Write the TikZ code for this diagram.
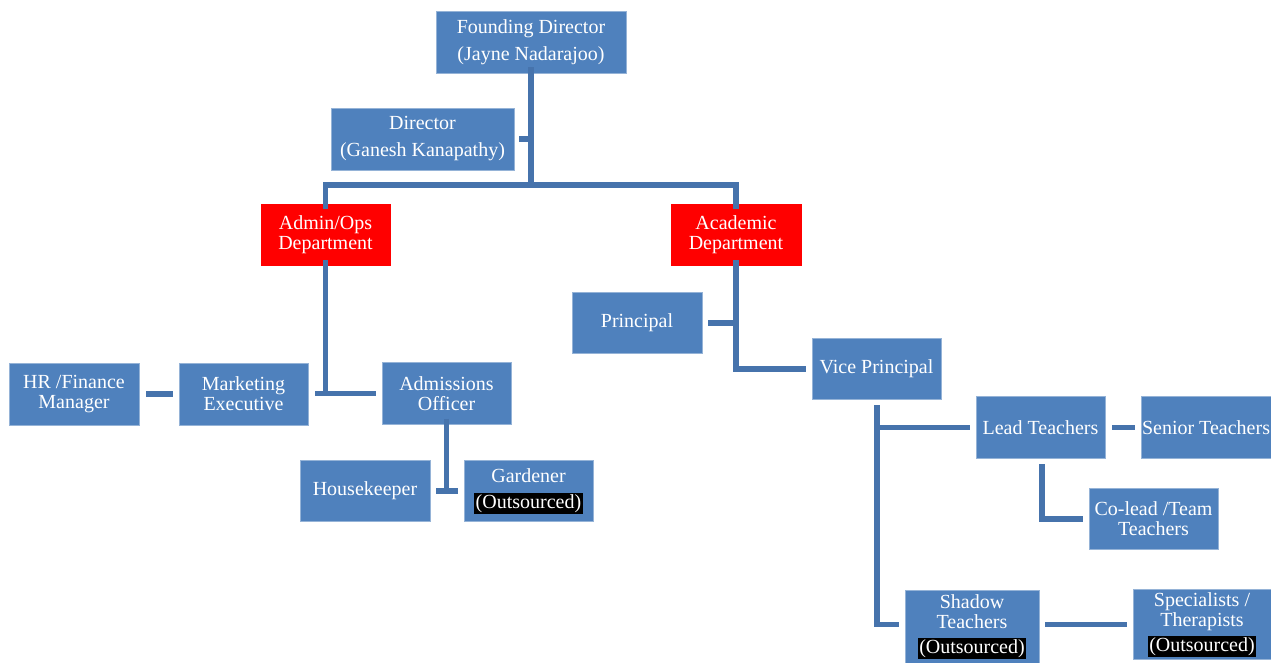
\documentclass[tikz,border=0pt]{standalone}
\usepackage{fontspec}
\setmainfont{Liberation Serif}
\definecolor{boxblue}{HTML}{4F81BD}
\definecolor{boxred}{HTML}{FF0000}
\definecolor{linkblue}{HTML}{4673AC}
\newcommand{\outs}{{\setlength{\fboxsep}{1.5pt}\colorbox{black}{(Outsourced)}}}
\begin{document}
\begin{tikzpicture}[x=1pt,y=-1pt,
  orgbox/.style={fill=boxblue, draw=boxblue!60!white, line width=0.8pt, text=white, align=center,
    inner sep=0pt, font=\fontsize{20}{20}\selectfont},
  redbox/.style={orgbox, fill=boxred, draw=boxred},
  link/.style={draw=linkblue, line width=5.5pt}]
\useasboundingbox (0,0) rectangle (1271,662);
% boxes
\node[orgbox, minimum width=190, minimum height=62, font=\fontsize{20}{27}\selectfont] (fd) at (531,42) {Founding Director\\(Jayne Nadarajoo)};
\node[orgbox, minimum width=183, minimum height=62, font=\fontsize{20}{27}\selectfont] (dir) at (422.5,139) {Director\\(Ganesh Kanapathy)};
\node[redbox, minimum width=129, minimum height=61] (admin) at (325.5,235) {Admin/Ops\\Department};
\node[redbox, minimum width=130, minimum height=61] (acad) at (736,235) {Academic\\Department};
\node[orgbox, minimum width=130, minimum height=61] (prin) at (637,323) {Principal};
\node[orgbox, minimum width=129, minimum height=61] (vp) at (876.5,369) {Vice Principal};
\node[orgbox, minimum width=130, minimum height=62] (hr) at (74,394) {HR /Finance\\Manager};
\node[orgbox, minimum width=129, minimum height=62] (mkt) at (243.5,394) {Marketing\\Executive};
\node[orgbox, minimum width=129, minimum height=62] (adm) at (446.5,393.5) {Admissions\\Officer};
\node[orgbox, minimum width=130, minimum height=61] (hk) at (365,491) {Housekeeper};
\node[orgbox, minimum width=129, minimum height=61, font=\fontsize{20}{26}\selectfont] (gard) at (528.5,491) {Gardener\\\outs};
\node[orgbox, minimum width=129, minimum height=62] (lead) at (1040.5,427.5) {Lead Teachers};
\node[orgbox, minimum width=130, minimum height=62] (senior) at (1206,427.5) {Senior Teachers};
\node[orgbox, minimum width=129, minimum height=61] (colead) at (1153.5,519) {Co-lead /Team\\Teachers};
\node[orgbox, minimum width=134, minimum height=73] (shadow) at (972,626.5) {Shadow\\Teachers\\[5pt]\outs};
\node[orgbox, minimum width=138, minimum height=70] (spec) at (1202,624.5) {Specialists /\\Therapists\\[5pt]\outs};
% connectors
\coordinate (bar) at (531,185);
\draw[link] ([yshift=6]fd.south) -- (bar);
\draw[link] ([xshift=5]dir.east) -- (dir.east -| bar);
\draw[link] ([yshift=-5]admin.north) |- (bar) -| ([yshift=-5]acad.north);
\coordinate (amid) at (325.5,393.5);
\draw[link] ([yshift=6]admin.south) -- (amid);
\draw[link] ([xshift=7]mkt.east |- amid) -- ([xshift=-6]adm.west);
\draw[link] ([xshift=7]hr.east) -- ([xshift=-6]mkt.west);
\coordinate (amid2) at (446.5,491);
\draw[link] ([yshift=6]adm.south) -- (amid2);
\draw[link] ([xshift=6]hk.east) -- ([xshift=-6]gard.west);
\draw[link] ([yshift=6]acad.south) |- ([xshift=-6]vp.west);
\draw[link] ([xshift=6]prin.east) -- (prin.east -| acad.south);
\coordinate (vpdown) at (877,405);
\coordinate (sh) at (877,624.5);
\draw[link] (vpdown) -- (sh) -- ([xshift=-6]shadow.west |- sh);
\draw[link] (vpdown |- lead.west) -- ([xshift=-6]lead.west);
\draw[link] ([xshift=7]lead.east) -- ([xshift=-6]senior.west);
\coordinate (ldown) at (1042,464);
\draw[link] (ldown) |- ([xshift=-6]colead.west);
\draw[link] ([xshift=6]shadow.east |- sh) -- ([xshift=-6]spec.west);
\end{tikzpicture}
\end{document}
